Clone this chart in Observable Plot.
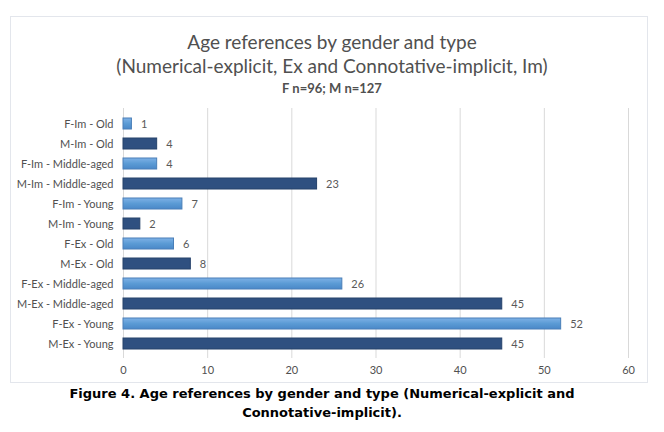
<!DOCTYPE html>
<html>
<head>
<meta charset="utf-8">
<script src="https://cdn.jsdelivr.net/npm/d3@7"></script>
<script src="https://cdn.jsdelivr.net/npm/@observablehq/plot@0.6"></script>
<style>
  html, body { margin: 0; padding: 0; background: #fff; }
  body { width: 664px; height: 432px; position: relative; overflow: hidden; font-family: Lato, "Liberation Sans", sans-serif; }
  #frame { position: absolute; left: 10px; top: 16px; width: 638px; height: 367px; border: 1px solid #e3e6ec; box-sizing: border-box; }
  #title { position: absolute; left: 0; top: 30px; width: 664px; text-align: center; color: #505050; }
  #title .t1 { font-size: 19px; line-height: 24px; }
  #title .t2 { font-size: 13px; line-height: 20px; font-weight: bold; margin-top: 0px; }
  #chart { position: absolute; left: 0; top: 100px; }
  #caption { position: absolute; left: -10px; top: 384px; width: 664px; text-align: center; font-family: "DejaVu Sans", Verdana, sans-serif; font-weight: bold; font-size: 13px; line-height: 19px; color: #000; }
</style>
</head>
<body>
<div id="frame"></div>
<div id="title">
  <div class="t1">Age references by gender and type</div>
  <div class="t1">(Numerical-explicit, Ex and Connotative-implicit, Im)</div>
  <div class="t2">F n=96; M n=127</div>
</div>
<div id="chart"></div>
<div id="caption">Figure 4. Age references by gender and type (Numerical-explicit and<br>Connotative-implicit).</div>
<script>
const categories = [
  "F-Im - Old", "M-Im - Old", "F-Im - Middle-aged", "M-Im - Middle-aged",
  "F-Im - Young", "M-Im - Young", "F-Ex - Old", "M-Ex - Old",
  "F-Ex - Middle-aged", "M-Ex - Middle-aged", "F-Ex - Young", "M-Ex - Young"
];
const values = [1, 4, 4, 23, 7, 2, 6, 8, 26, 45, 52, 45];
const genders = ["F", "M", "F", "M", "F", "M", "F", "M", "F", "M", "F", "M"];
const xTicks = [0, 10, 20, 30, 40, 50, 60];

const data = categories.map((c, i) => ({category: c, value: values[i], gender: genders[i]}));

const plot = Plot.plot({
  width: 664,
  height: 282,
  marginLeft: 123,
  marginRight: 36,
  marginTop: 8,
  marginBottom: 24,
  style: {fontFamily: "Lato, 'Liberation Sans', sans-serif", fontSize: "11px", color: "#505050", background: "transparent"},
  x: {domain: [0, 60], ticks: xTicks, tickSize: 0, label: null, tickPadding: 8},
  y: {domain: categories, label: null, tickSize: 0, tickPadding: 10, padding: 0.45},
  marks: [
    Plot.gridX(xTicks, {stroke: "#d9d9d9", strokeOpacity: 1}),
    Plot.barX(data.filter(d => d.gender === "F"), {x: "value", y: "category", fill: "url(#lightGrad)", stroke: "#4a7fb8", strokeWidth: 1}),
    Plot.barX(data.filter(d => d.gender === "M"), {x: "value", y: "category", fill: "#2f5080", stroke: "#26426b", strokeWidth: 1}),
    Plot.text(data, {x: "value", y: "category", text: d => String(d.value), dx: 9, textAnchor: "start", fill: "#595959", fontSize: 11})
  ]
});

const svg = d3.select(plot);
const defs = svg.insert("defs", ":first-child");
const g = defs.append("linearGradient").attr("id", "lightGrad").attr("x1", 0).attr("y1", 0).attr("x2", 0).attr("y2", 1);
g.append("stop").attr("offset", "0%").attr("stop-color", "#7eb1e6");
g.append("stop").attr("offset", "50%").attr("stop-color", "#5b9bd5");
g.append("stop").attr("offset", "100%").attr("stop-color", "#4a88c8");

document.getElementById("chart").appendChild(plot);
</script>
</body>
</html>
